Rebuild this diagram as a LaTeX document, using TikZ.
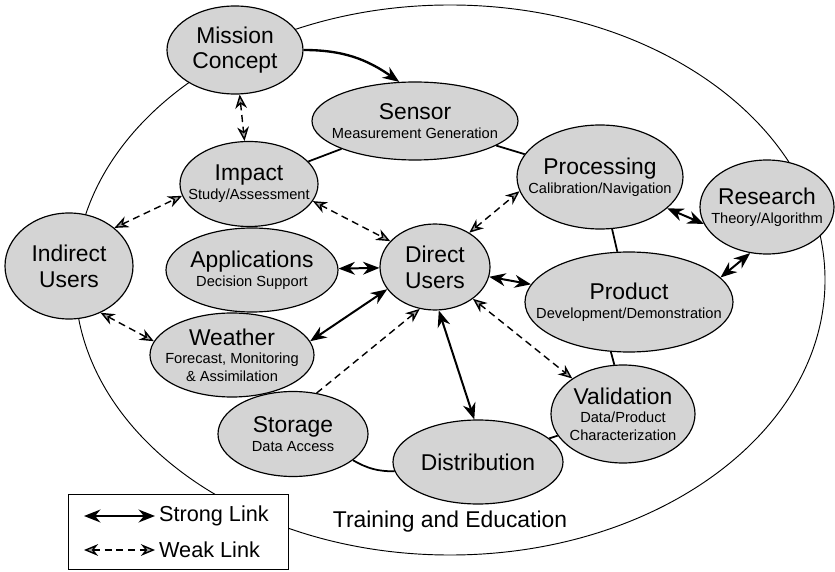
\documentclass[tikz,border=0pt]{standalone}
\usepackage{fontspec}
\setmainfont{Liberation Sans}
\usetikzlibrary{shapes.geometric,arrows.meta}

\newcommand{\nm}{\fontsize{19.5}{22}\selectfont}
\newcommand{\sm}{\fontsize{12.5}{14}\selectfont}

\tikzset{
  stip/.tip={Stealth[length=14pt,width=11pt]},
  wtip/.tip={Stealth[length=12pt,width=10pt,fill=black!35]},
  bubble/.style={ellipse, draw, line width=1pt, fill=black!17, inner sep=0pt},
  sz/.style 2 args={minimum width=#1*0.03cm, minimum height=#2*0.03cm},
  lbl/.style={align=center, font=\nm, inner sep=0pt},
  strong/.style={line width=1.7pt, stip-stip},
  weak/.style={line width=1.2pt, dash pattern=on 6pt off 4pt, wtip-wtip},
  tie/.style={line width=1.5pt},
}

\begin{document}
\begin{tikzpicture}[x=0.03cm, y=-0.03cm]
  \useasboundingbox (0,0) rectangle (835,572);

  % training and education ring
  \draw[line width=0.8pt] (450,280) ellipse [x radius=11.25cm, y radius=8.25cm];

  \node[bubble, sz={136}{88}] (mission) at (235,50) {};
  \node[lbl] (missiontxt) at (mission) {Mission\\Concept};
  \node[bubble, sz={206}{78}] (sensor) at (415,121) {};
  \node[lbl] (sensortxt) at (sensor) {Sensor\\[-6pt]{\sm Measurement Generation}};
  \node[bubble, sz={138}{85}] (impact) at (249,184) {};
  \node[lbl] (impacttxt) at (impact) {Impact\\[-6pt]{\sm Study/Assessment}};
  \node[bubble, sz={128}{106}] (indirect) at (69,266) {};
  \node[lbl] (indirecttxt) at (indirect) {Indirect\\Users};
  \node[bubble, sz={172}{84}] (applications) at (252,270) {};
  \node[lbl] (applicationstxt) at (applications) {Applications\\[-6pt]{\sm Decision Support}};
  \node[bubble, sz={110}{86}] (direct) at (435,267) {};
  \node[lbl] (directtxt) at (direct) {Direct\\Users};
  \node[bubble, sz={164}{84}] (weather) at (232,355) {};
  \node[lbl] (weathertxt) at (weather) {Weather\\[-6pt]{\sm Forecast, Monitoring}\\[-7pt]{\sm \& Assimilation}};
  \node[bubble, sz={150}{85}] (storage) at (293,434) {};
  \node[lbl] (storagetxt) at (storage) {Storage\\[-6pt]{\sm Data Access}};
  \node[bubble, sz={170}{84}] (distribution) at (478,462) {};
  \node[lbl] (distributiontxt) at (distribution) {Distribution};
  \node[bubble, sz={144}{98}] (validation) at (623,414) {};
  \node[lbl] (validationtxt) at (validation) {Validation\\[-6pt]{\sm Data/Product}\\[-7pt]{\sm Characterization}};
  \node[bubble, sz={208}{100}] (product) at (629,302) {};
  \node[lbl] (producttxt) at (product) {Product\\[-6pt]{\sm Development/Demonstration}};
  \node[bubble, sz={166}{104}] (processing) at (600,177) {};
  \node[lbl] (processingtxt) at (processing) {Processing\\[-6pt]{\sm Calibration/Navigation}};
  \node[bubble, sz={134}{94}] (research) at (767,207) {};
  \node[lbl] (researchtxt) at (research) {Research\\[-6pt]{\sm Theory/Algorithm}};

  \draw[line width=2pt, -stip] (mission.east) to[out=0, in=145] (sensor.112);

  \begin{scope}
    \draw[tie] (impact) -- (sensor);
    \draw[tie] (sensor) -- (processing);
    \draw[tie] (processing) -- (product);
    \draw[tie] (product.250) -- (validation.100);
    \draw[tie] (validation) -- (distribution);
    \draw[tie] (storage) to[bend right=15] (distribution);
  \end{scope}

  \begin{scope}
    \draw[strong] (applications) -- (direct);
    \draw[strong] (weather.10) -- (direct.205);
    \draw[strong] (direct.275) -- (distribution.95);
    \draw[strong] (direct) -- (product);
    \draw[strong] (processing.-25) -- (research.195);
    \draw[strong] (research.250) -- (product.15);
  \end{scope}

  \begin{scope}
    \draw[weak] (mission) -- (impact);
    \draw[weak] (indirect.40) -- (impact.190);
    \draw[weak] (indirect.-56) -- (weather.170);
    \draw[weak] (impact.-15) -- (direct.150);
    \draw[weak] (direct.45) -- (processing.190);
    \draw[weak] (direct.-40) -- (validation.145);
    \draw[weak, -wtip] (storage.60) -- (direct.250);
  \end{scope}

  \node[font=\fontsize{19.5}{22}\selectfont] (training) at (450,522) {Training and Education};

  % legend
  \node[draw, line width=0.8pt, fill=white, sz={220}{75}] (legend) at (178,532) {};
  \node[anchor=west, font=\fontsize{18.5}{20}\selectfont] (strongtxt) at (155,516) {Strong Link};
  \node[anchor=west, font=\fontsize{18.5}{20}\selectfont] (weaktxt) at (155,550) {Weak Link};
  \coordinate (strongend) at (84,516);
  \coordinate (weakend) at (84,550);
  \draw[strong] (strongend) -- (strongtxt);
  \draw[weak] (weakend) -- (weaktxt);
\end{tikzpicture}
\end{document}
